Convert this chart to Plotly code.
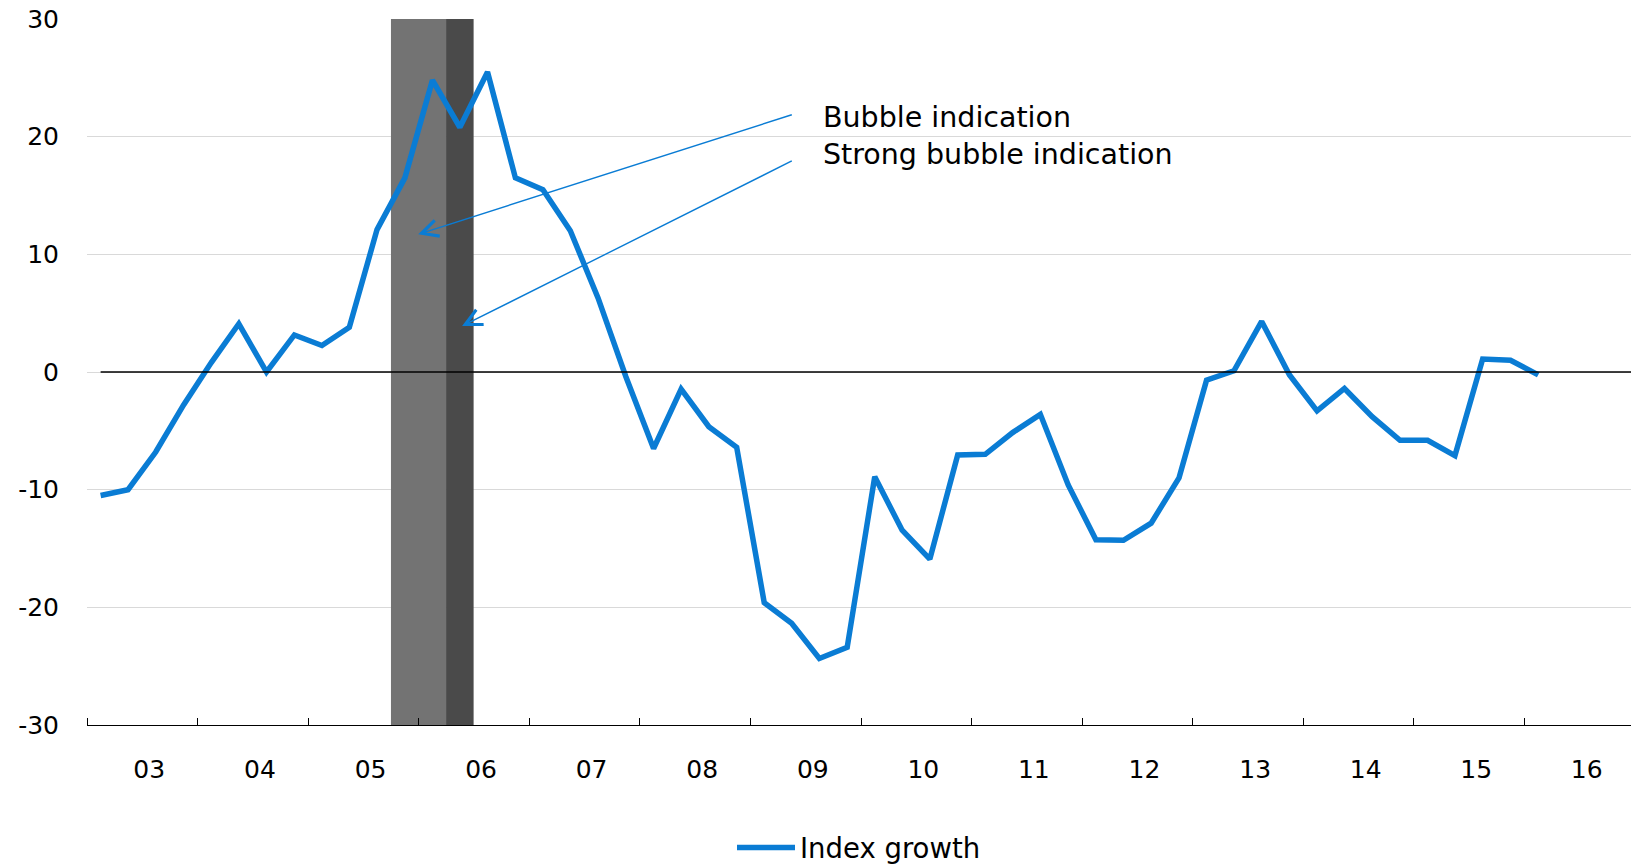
import pandas as pd
import plotly.graph_objects as go

# ---- data ----
quarters = pd.period_range("2003Q1", "2016Q1", freq="Q")
index_growth = [
    -10.5, -10.0, -6.8, -2.8,
    0.8, 4.1, 0.0, 3.15,
    2.25, 3.8, 12.1, 16.5,
    24.8, 20.8, 25.5, 16.5,
    15.5, 12.0, 6.3, -0.4,
    -6.5, -1.45, -4.65, -6.4,
    -19.6, -21.35, -24.35, -23.4,
    -8.9, -13.45, -15.9, -7.05,
    -7.0, -5.15, -3.6, -9.6,
    -14.25, -14.3, -12.85, -9.0,
    -0.7, 0.1, 4.3, -0.25,
    -3.3, -1.4, -3.8, -5.8,
    -5.8, -7.1, 1.1, 1.0,
    -0.25,
]
bubble_periods = [("2005-10-01", "2006-04-01")]
strong_bubble_periods = [("2006-04-01", "2006-07-01")]
y_ticks = [-30, -20, -10, 0, 10, 20, 30]
y_ticktext = ["-30", "-20", "-10", "0", "10", "20", "30"]

x_mid = [p.start_time + (p.end_time - p.start_time) / 2 for p in quarters]

BLUE = "#0A7CD4"
FONT = "DejaVu Sans"

fig = go.Figure()
fig.add_trace(go.Scatter(
    x=x_mid, y=index_growth, mode="lines", name="Index growth",
    line=dict(color=BLUE, width=5.5), showlegend=True,
))

for s, e in bubble_periods:
    fig.add_shape(type="rect", xref="x", yref="y", x0=s, x1=e, y0=-30, y1=30,
                  fillcolor="#737373", line_width=0, layer="between")
for s, e in strong_bubble_periods:
    fig.add_shape(type="rect", xref="x", yref="y", x0=s, x1=e, y0=-30, y1=30,
                  fillcolor="#4A4A4A", line_width=0, layer="between")

# zero line from first observation to the right edge (drawn over the series)
fig.add_shape(type="line", xref="x", yref="y", x0=x_mid[0], x1="2016-12-31",
              y0=0, y1=0, line=dict(color="black", width=1.3), layer="above")

# annotations
fig.add_annotation(x="2005-12-30", y=11.7, ax="2009-05-22", ay=21.9,
                   xref="x", yref="y", axref="x", ayref="y", text="",
                   showarrow=True, arrowhead=5, arrowsize=2.3, arrowwidth=1.4,
                   arrowcolor=BLUE)
fig.add_annotation(x="2006-05-24", y=3.9, ax="2009-05-22", ay=18.0,
                   xref="x", yref="y", axref="x", ayref="y", text="",
                   showarrow=True, arrowhead=5, arrowsize=2.3, arrowwidth=1.4,
                   arrowcolor=BLUE)
fig.add_annotation(x="2009-08-20", y=21.6, xref="x", yref="y", text="Bubble indication",
                   showarrow=False, xanchor="left", yanchor="middle",
                   font=dict(family=FONT, size=28.5, color="black"))
fig.add_annotation(x="2009-08-20", y=18.5, xref="x", yref="y", text="Strong bubble indication",
                   showarrow=False, xanchor="left", yanchor="middle",
                   font=dict(family=FONT, size=28.5, color="black"))

fig.update_layout(
    width=1631, height=865,
    margin=dict(l=87, r=0, t=19, b=140),
    paper_bgcolor="white", plot_bgcolor="white",
    font=dict(family=FONT, size=26, color="black"),
    legend=dict(orientation="h", x=0.5, xanchor="center", y=0.02, yanchor="middle",
                yref="container", font=dict(family=FONT, size=27.5), itemwidth=58),
)
fig.update_xaxes(
    type="date", range=["2003-01-01", "2016-12-18"],
    dtick="M12", tick0="2003-01-01", tickformat="%y", ticklabelmode="period",
    ticks="inside", ticklen=7, tickwidth=1.2, tickcolor="black",
    showline=True, linecolor="black", linewidth=1.3,
    showgrid=False, zeroline=False, ticklabelstandoff=22, ticklabelshift=7,
    tickfont=dict(family=FONT, size=25),
)
fig.update_yaxes(
    range=[-30, 30], tickvals=y_ticks, ticktext=y_ticktext,
    showgrid=True, gridcolor="#D9D9D9", gridwidth=1.2,
    zeroline=False, showline=False, ticks="", ticklabelstandoff=27,
    tickfont=dict(family=FONT, size=25),
)

fig.write_html("out.html")
